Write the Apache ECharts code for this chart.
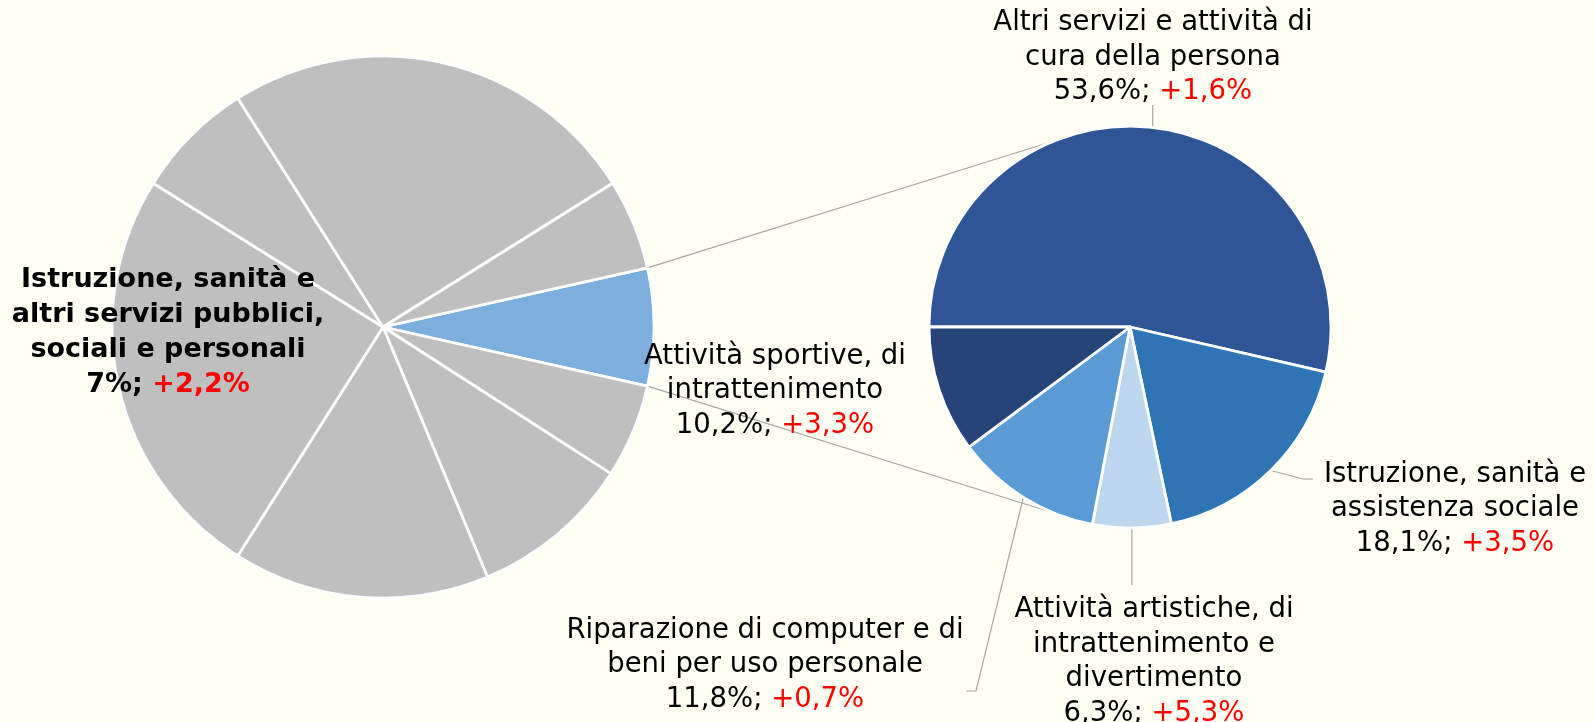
<!DOCTYPE html>
<html>
<head>
<meta charset="utf-8">
<script src="https://cdn.jsdelivr.net/npm/echarts@6/dist/echarts.min.js"></script>
<style>
html,body{margin:0;padding:0;background:#FFFFF3;}
#chart{width:1594px;height:722px;}
</style>
</head>
<body>
<div id="chart"></div>
<script>
// ---------------- DATA ----------------
// Main pie: highlighted sector first, then the other (unlabelled) sectors clockwise
const mainCategories = [
  'Istruzione, sanità e\naltri servizi pubblici,\nsociali e personali',
  'Altro settore 1', 'Altro settore 2', 'Altro settore 3', 'Altro settore 4',
  'Altro settore 5', 'Altro settore 6', 'Altro settore 7'
];
const mainShares = [7.0, 5.6, 9.6, 15.3, 24.9, 7.1, 25.1, 5.4];
const mainChange = 2.2;

// Secondary pie: breakdown of the highlighted sector
const subCategories = [
  'Altri servizi e attività di\ncura della persona',
  'Istruzione, sanità e\nassistenza sociale',
  'Attività artistiche, di\nintrattenimento e\ndivertimento',
  'Riparazione di computer e di\nbeni per uso personale',
  'Attività sportive, di\nintrattenimento'
];
const subShares = [53.6, 18.1, 6.3, 11.8, 10.2];
const subChanges = [1.6, 3.5, 5.3, 0.7, 3.3];

// ---------------- STYLE / LAYOUT ----------------
const FONT = 'DejaVu Sans';
const mainColors = ['#7CAFDD', '#BFBFBF'];
const subColors = ['#2F5597', '#2E75B6', '#BDD7EE', '#5B9BD5', '#264478'];
const L = {cx: 383, cy: 327, r: 271};
const R = {cx: 1130, cy: 327, r: 201};
const connectorAngle = 112.5; // where connectors meet the secondary pie

const fmt = (v, d) => v.toFixed(d).replace('.', ',');
function richLabel(name, share, change, d, style) {
  const lines = name.split('\n').map(l => '{' + style + '|' + l + '}');
  lines.push('{' + style + '|' + fmt(share, d) + '%; }{' + style + 'r|+' + fmt(change, 1) + '%}');
  return lines.join('\n');
}

const mainTotal = mainShares.reduce((a, b) => a + b, 0);
const mainStart = mainShares[0] / mainTotal * 360 / 2;

// label placement for secondary pie (anchor of each text block + guide line elbows)
const subLabelPlacement = [
  {x: 1153, y: 57.5, guide: p => [p, [p[0], 105]]},
  {x: 1455, y: 509,  guide: p => [p, [1303, 479], [1313, 479]]},
  {x: 1154, y: 662,  guide: p => [p, [p[0], 585]]},
  {x: 765,  y: 665,  guide: p => [p, [976, 691], [966, 691]]},
  {x: 775,  y: 391,  guide: null}
];

const chart = echarts.init(document.getElementById('chart'), null, {renderer: 'canvas'});

const rad = a => a * Math.PI / 180;
const connectors = [1, -1].map(s => ({
  type: 'line',
  z: 0,
  silent: true,
  shape: {
    x1: L.cx + L.r * Math.cos(rad(mainStart)),
    y1: L.cy - s * L.r * Math.sin(rad(mainStart)),
    x2: R.cx + R.r * Math.cos(rad(connectorAngle)),
    y2: R.cy - s * R.r * Math.sin(rad(connectorAngle))
  },
  style: {stroke: '#A6A6A6', lineWidth: 1.2}
}));

const option = {
  backgroundColor: '#FFFFF3',
  animation: false,
  graphic: connectors,
  series: [
    {
      type: 'pie',
      silent: true,
      center: [L.cx, L.cy],
      radius: [0, L.r],
      startAngle: mainStart,
      clockwise: true,
      avoidLabelOverlap: false,
      itemStyle: {borderColor: '#FFFFFF', borderWidth: 2.8},
      label: {
        show: false,
        position: 'inside',
        align: 'center',
        rich: {
          b: {fontFamily: FONT, fontSize: 27, fontWeight: 'bold', color: '#000000', lineHeight: 35},
          br: {fontFamily: FONT, fontSize: 27, fontWeight: 'bold', color: '#FF0000', lineHeight: 35}
        }
      },
      labelLine: {show: false},
      labelLayout: () => ({x: 168, y: 332, align: 'center', verticalAlign: 'middle'}),
      data: mainShares.map((v, i) => ({
        name: mainCategories[i],
        value: v,
        itemStyle: {color: i === 0 ? mainColors[0] : mainColors[1]},
        label: i === 0 ? {show: true, formatter: () => richLabel(mainCategories[0], mainShares[0], mainChange, 0, 'b')} : {show: false}
      }))
    },
    {
      type: 'pie',
      silent: true,
      center: [R.cx, R.cy],
      radius: [0, R.r],
      startAngle: 180,
      clockwise: true,
      avoidLabelOverlap: false,
      itemStyle: {borderColor: '#FFFFFF', borderWidth: 2.8},
      label: {
        show: true,
        position: 'outside',
        align: 'center',
        formatter: p => richLabel(subCategories[p.dataIndex], subShares[p.dataIndex], subChanges[p.dataIndex], 1, 't'),
        rich: {
          t: {fontFamily: FONT, fontSize: 27.5, color: '#000000', lineHeight: 34.5},
          tr: {fontFamily: FONT, fontSize: 27.5, color: '#FF0000', lineHeight: 34.5}
        }
      },
      labelLine: {show: true, length: 20, length2: 10, lineStyle: {color: '#A6A6A6', width: 1.2}},
      labelLayout: params => {
        const cfg = subLabelPlacement[params.dataIndex];
        const res = {x: cfg.x, y: cfg.y, align: 'center', verticalAlign: 'middle'};
        if (cfg.guide && params.labelLinePoints) {
          res.labelLinePoints = cfg.guide(params.labelLinePoints[0]);
        }
        return res;
      },
      data: subShares.map((v, i) => ({
        name: subCategories[i],
        value: v,
        itemStyle: {color: subColors[i]},
        labelLine: {show: subLabelPlacement[i].guide !== null}
      }))
    }
  ]
};
chart.setOption(option);
</script>
</body>
</html>
